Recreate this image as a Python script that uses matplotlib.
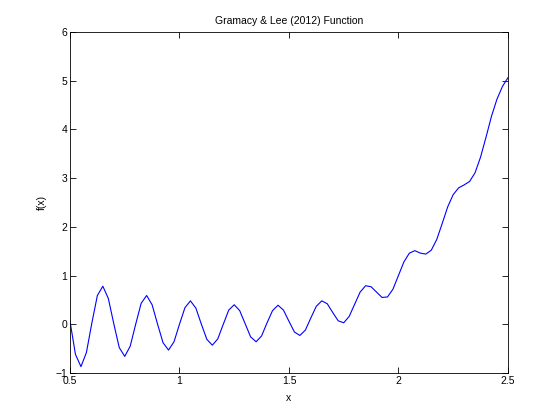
import numpy as np
import matplotlib
matplotlib.use('Agg')
from matplotlib import pyplot as plt

x_start = 0.5
x_step = 0.025
fx = [0.06, -0.62, -0.87, -0.58, 0.03, 0.59, 0.78, 0.53,
      0.01, -0.48, -0.66, -0.45, 0.00, 0.43, 0.59, 0.40,
      0.00, -0.38, -0.53, -0.36, 0.00, 0.34, 0.48, 0.33,
      0.00, -0.31, -0.43, -0.30, 0.00, 0.29, 0.40, 0.28,
      0.01, -0.26, -0.36, -0.24, 0.03, 0.28, 0.39, 0.29,
      0.06, -0.16, -0.23, -0.12, 0.13, 0.37, 0.48, 0.42,
      0.24, 0.07, 0.03, 0.16, 0.41, 0.66, 0.79, 0.77,
      0.66, 0.55, 0.56, 0.72, 1.00, 1.28, 1.46, 1.51,
      1.46, 1.44, 1.52, 1.74, 2.07, 2.41, 2.66, 2.80,
      2.86, 2.93, 3.11, 3.43, 3.84, 4.27, 4.62, 4.88,
      5.06]
x = x_start + x_step * np.arange(len(fx))

x_ticks = [0.5, 1, 1.5, 2, 2.5]
x_tick_labels = ['0.5', '1', '1.5', '2', '2.5']
y_ticks = [-1, 0, 1, 2, 3, 4, 5, 6]

plt.rcParams['font.family'] = ['Liberation Sans', 'DejaVu Sans']
plt.rcParams['font.size'] = 7.5

fig = plt.figure(figsize=(5.6, 4.2), dpi=100)
ax = fig.add_axes([0.125, 0.112, 0.782, 0.812])

# --- プロット ---
ax.plot(x, fx, color='#0000ff', linewidth=0.8)

ax.set_xlim(0.5, 2.5)
ax.set_ylim(-1, 6)
ax.set_xticks(x_ticks)
ax.set_xticklabels(x_tick_labels)
ax.set_yticks(y_ticks)
ax.tick_params(direction='in', top=True, right=True, length=4, width=0.6, pad=2)
for sp in ax.spines.values():
    sp.set_linewidth(0.6)

ax.set_title('Gramacy & Lee (2012) Function', fontsize=7.5, pad=6)
ax.set_xlabel('x', labelpad=5)
ax.set_ylabel('f(x)', labelpad=6)

fig.savefig('out.png', dpi=100)
